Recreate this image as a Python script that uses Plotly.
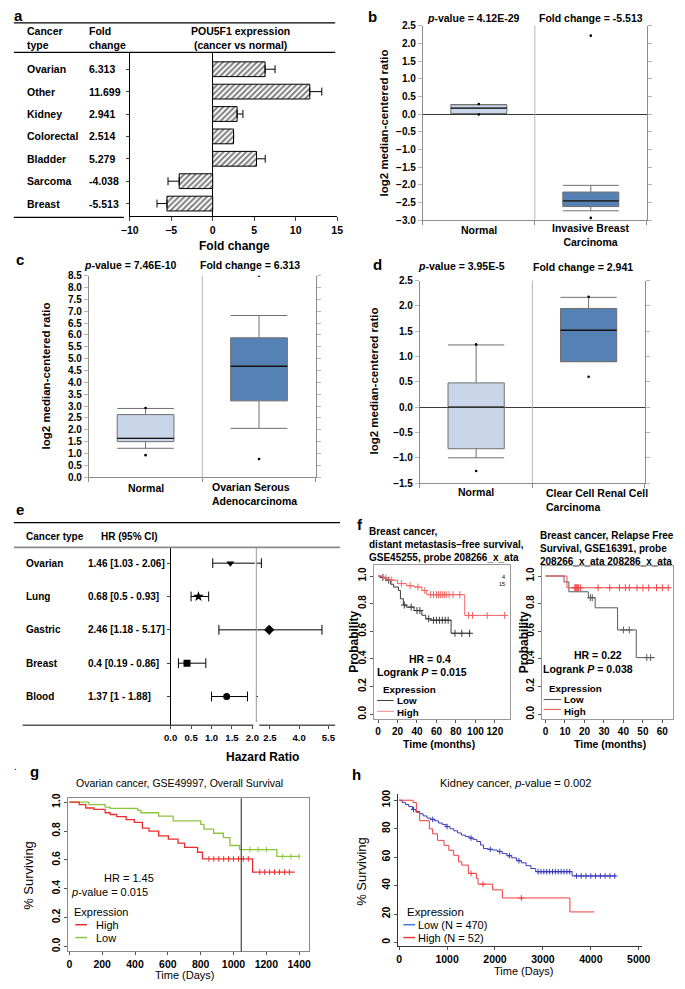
import bisect
import plotly.graph_objects as go

W, H = 685, 989
F = "Liberation Sans, Arial, Helvetica, sans-serif"

# ============================ DATA ============================
# (a) POU5F1 expression, cancer vs normal
a_cats = ["Ovarian", "Other", "Kidney", "Colorectal", "Bladder", "Sarcoma", "Breast"]
a_fold = [6.313, 11.699, 2.941, 2.514, 5.279, -4.038, -5.513]
a_err = [1.2, 1.45, 0.7, 0.0, 1.05, 1.35, 1.2]
a_xticks = [-10, -5, 0, 5, 10, 15]

# (b) breast
b_groups = ["Normal", "Invasive Breast<br>Carcinoma"]
b_q1 = [0.02, -2.61]
b_med = [0.17, -2.45]
b_q3 = [0.27, -2.20]
b_lo = [0.02, -2.73]
b_hi = [0.27, -2.01]
b_out_g = [0, 0, 1, 1]
b_out_v = [0.29, -0.01, 2.22, -2.93]
b_pval, b_fold = "4.12E-29", "-5.513"

# (c) ovarian
c_groups = ["Normal", "Ovarian Serous<br>Adenocarcinoma"]
c_q1 = [1.50, 3.22]
c_med = [1.64, 4.68]
c_q3 = [2.64, 5.88]
c_lo = [1.22, 2.06]
c_hi = [2.90, 6.82]
c_out_g = [0, 0, 1, 1]
c_out_v = [2.92, 0.93, 8.50, 0.77]
c_pval, c_fold = "7.46E-10", "6.313"

# (d) kidney
d_groups = ["Normal", "Clear Cell Renal Cell<br>Carcinoma"]
d_q1 = [-0.82, 0.90]
d_med = [0.00, 1.52]
d_q3 = [0.48, 1.95]
d_lo = [-1.00, 0.90]
d_hi = [1.23, 2.17]
d_out_g = [0, 0, 1, 1]
d_out_v = [1.24, -1.26, 2.18, 0.60]
d_pval, d_fold = "3.95E-5", "2.941"

# (e) forest plot
e_cats = ["Ovarian", "Lung", "Gastric", "Breast", "Blood"]
e_hr = [1.46, 0.68, 2.46, 0.4, 1.37]
e_lo = [1.03, 0.5, 1.18, 0.19, 1.0]
e_hi = [2.06, 0.93, 5.17, 0.86, 1.88]
e_sym = ["triangle-down", "star", "diamond", "square", "circle"]
e_left_ticks = [0.0, 0.5, 1.0, 1.5, 2.0]
e_right_ticks = [2.5, 4.0, 5.5]
e_break = 2.0

# (f) left KM: GSE45255
fL_hi_t = [0, 5, 11, 20, 29, 37, 45, 50, 89, 132]
fL_hi_s = [1.0, 0.985, 0.97, 0.945, 0.93, 0.92, 0.895, 0.865, 0.715, 0.715]
fL_hi_c = [8, 14, 24, 33, 41, 48, 54, 57, 60, 62, 64, 66, 68, 70, 73, 77, 84, 93, 97, 112, 130]
fL_lo_t = [0, 3, 8, 13, 16, 21, 23, 26, 29, 37, 45, 49, 54, 75, 95]
fL_lo_s = [1.0, 0.99, 0.97, 0.94, 0.92, 0.895, 0.835, 0.79, 0.775, 0.75, 0.716, 0.69, 0.68, 0.586, 0.586]
fL_lo_c = [5, 11, 27, 34, 40, 43, 52, 57, 60, 63, 66, 69, 72, 79, 86, 94]
# (f) right KM: GSE16391
fR_hi_t = [0, 11, 64]
fR_hi_s = [1.0, 0.915, 0.915]
fR_hi_c = [15, 15.5, 16, 16.5, 17, 18, 27, 33, 38, 41, 43, 47, 50, 53, 57, 60, 63]
fR_lo_t = [0, 9.5, 12, 22, 25.5, 37, 46.6, 56]
fR_lo_s = [1.0, 0.957, 0.886, 0.843, 0.77, 0.61, 0.41, 0.41]
fR_lo_c = [23, 24, 40, 43, 52, 54]
f_ticks_L = [0, 20, 40, 60, 80, 100, 120]
f_ticks_R = [0, 10, 20, 30, 40, 50, 60]
f_yticks = [0.0, 0.2, 0.4, 0.6, 0.8, 1.0]

# (g) ovarian OS GSE49997
g_lo_t = [0, 119, 218, 248, 416, 436, 544, 632, 800, 820, 879, 938, 978, 1037, 1264, 1408]
g_lo_s = [1.0, 0.984, 0.966, 0.957, 0.943, 0.927, 0.904, 0.870, 0.847, 0.813, 0.785, 0.755, 0.70, 0.672, 0.624, 0.624]
g_lo_c = [1100, 1150, 1200, 1300, 1350, 1400]
g_hi_t = [0, 60, 100, 149, 218, 248, 288, 346, 396, 445, 485, 544, 603, 662, 702, 781, 811, 1116, 1373]
g_hi_s = [1.0, 0.984, 0.96, 0.95, 0.927, 0.915, 0.90, 0.88, 0.86, 0.82, 0.80, 0.767, 0.744, 0.717, 0.687,
          0.653, 0.607, 0.516, 0.516]
g_hi_c = [850, 880, 910, 940, 970, 1000, 1030, 1060, 1090, 1160, 1190, 1220, 1250, 1280, 1310, 1340]
g_cutoff = 1047
g_xticks = [0, 200, 400, 600, 800, 1000, 1200, 1400]
g_yticks = [0.0, 0.2, 0.4, 0.6, 0.8, 1.0]

# (h) kidney
h_lo_t = [0, 60, 130, 200, 280, 350, 430, 500, 580, 660, 740, 820, 900, 980, 1060, 1140, 1220, 1300, 1380,
          1460, 1540, 1620, 1700, 1760, 1850, 1950, 2050, 2150, 2250, 2350, 2450, 2550, 2650, 2750, 2850,
          3610, 4526]
h_lo_s = [100, 98.5, 97, 95.5, 93.5, 92, 90.5, 89, 87.5, 86.5, 85.5, 84, 83, 81.5, 80, 78.5, 77, 75.5, 74.5,
          73.5, 72.5, 71, 68.5, 66, 65.5, 65, 64, 62.5, 61, 59.5, 57.5, 56, 54, 52, 49.8, 46.8, 46.8]
h_lo_c = [300, 700, 1000, 1500, 1900, 2100, 2300, 2500, 2900, 2960, 3020, 3080, 3140, 3200, 3260, 3320, 3380,
          3440, 3500, 3560, 3700, 3800, 3900, 4000, 4100, 4200, 4300, 4400, 4500]
h_hi_t = [0, 291, 359, 427, 630, 698, 800, 935, 1037, 1138, 1240, 1308, 1443, 1612, 1646, 1951, 2154, 3564, 4072]
h_hi_s = [100, 98.4, 91.4, 85.6, 79.9, 76.4, 71.8, 68.3, 64.8, 61.3, 56.7, 54.4, 48.6, 45.1, 41, 37, 31.3,
          21.5, 21.5]
h_hi_c = [1500, 1750, 2550]
h_xticks = [0, 1000, 2000, 3000, 4000, 5000]
h_yticks = [0, 20, 40, 60, 80, 100]

# ============================ HELPERS ============================
traces, anns, shapes, L = [], [], [], {}


def fx(p):
    return p / W


def fy(p):
    return 1 - p / H


def lr(v0, p0, v1, p1, pa, pb):
    k = (v1 - v0) / (p1 - p0)
    return [v0 + (pa - p0) * k, v0 + (pb - p0) * k]


def TF(size, fam=F, bold=True):
    return dict(size=size, family=fam, color="black", weight="bold" if bold else "normal")


def txt(s, x, y, size=10.5, bold=False, xa="left", ya="middle", xref="paper", yref="paper",
        fam=F, angle=0, align="left", color="black"):
    if xref == "paper":
        x = fx(x)
    if yref == "paper":
        y = fy(y)
    if bold:
        s = "<b>" + s + "</b>"
    anns.append(dict(text=s, x=x, y=y, xref=xref, yref=yref, xanchor=xa, yanchor=ya, showarrow=False,
                     font=dict(size=size, family=fam, color=color), textangle=angle, align=align))


def seg(x0, y0, x1, y1, color="black", w=1, xref="paper", yref="paper"):
    if xref == "paper":
        x0, x1 = fx(x0), fx(x1)
    if yref == "paper":
        y0, y1 = fy(y0), fy(y1)
    shapes.append(dict(type="line", x0=x0, x1=x1, y0=y0, y1=y1, xref=xref, yref=yref,
                       line=dict(color=color, width=w)))


def xaxis(n, p0, p1, rng, anchor, **kw):
    d = dict(domain=[fx(p0), fx(p1)], range=rng, anchor=anchor, showgrid=False, zeroline=False,
             fixedrange=True, ticks="", showticklabels=False, type="linear")
    d.update(kw)
    L["xaxis" if n == 1 else "xaxis%d" % n] = d


def yaxis(n, ptop, pbot, rng, anchor, **kw):
    d = dict(domain=[fy(pbot), fy(ptop)], range=rng, anchor=anchor, showgrid=False, zeroline=False,
             fixedrange=True, ticks="", showticklabels=False, type="linear")
    d.update(kw)
    L["yaxis" if n == 1 else "yaxis%d" % n] = d


def step_at(ts, ss, c):
    i = bisect.bisect_right(ts, c) - 1
    return ss[max(i, 0)]


def km(ts, ss, cens, color, xr, yr, width=1.0, msize=5, sym="cross-thin"):
    traces.append(go.Scatter(x=ts, y=ss, mode="lines", line=dict(color=color, width=width, shape="hv"),
                             xaxis=xr, yaxis=yr, hoverinfo="skip"))
    if cens:
        traces.append(go.Scatter(x=cens, y=[step_at(ts, ss, c) for c in cens], mode="markers",
                                 marker=dict(symbol=sym, size=msize, color=color, line=dict(color=color, width=1)),
                                 xaxis=xr, yaxis=yr, hoverinfo="skip"))


# ============================ PANEL LETTERS ============================
for lt, x, y in [("a", 3, 10), ("b", 367, 11), ("c", 5, 257), ("d", 372, 262), ("e", 5, 510),
                 ("f", 355, 525), ("g", 19, 775), ("h", 350, 778)]:
    txt(lt, x, y, size=15, bold=True)
txt(".", 3, 770, size=10)

# ============================ PANEL A ============================
ypos = list(range(len(a_cats)))
traces.append(go.Bar(
    x=a_fold, y=ypos, orientation="h", width=0.66, xaxis="x", yaxis="y",
    marker=dict(color="white", line=dict(color="black", width=1),
                pattern=dict(shape="/", fgcolor="black", bgcolor="white", size=4, solidity=0.5)),
    error_x=dict(type="data", symmetric=False,
                 array=[e if v > 0 else 0 for v, e in zip(a_fold, a_err)],
                 arrayminus=[e if v < 0 else 0 for v, e in zip(a_fold, a_err)],
                 color="black", thickness=1, width=4)))
xaxis(1, 124, 337, [-10, 15], "y", showline=True, linecolor="black", ticks="outside", ticklen=4,
      tickvals=a_xticks, showticklabels=True, tickfont=TF(10.5), zeroline=True, zerolinecolor="black",
      zerolinewidth=1)
yaxis(1, 48, 213, lr(0, 64, 6, 200, 213, 48), "x", showline=True, linecolor="black", ticks="outside",
      ticklen=3, tickvals=ypos)
seg(5, 17, 335, 17, w=1.3)
seg(5, 47, 335, 47, w=1.3)
seg(5, 214, 118, 214, w=1.3)
txt("Cancer<br>type", 16, 32, size=10.5, bold=True)
txt("Fold<br>change", 80, 32, size=10.5, bold=True)
txt("POU5F1 expression<br>(cancer vs normal)", 238, 32, size=10.5, bold=True, xa="center", align="center")
for i, (c, v) in enumerate(zip(a_cats, a_fold)):
    txt(c, 16, i, size=10.5, bold=True, yref="y")
    txt("%.3f" % v, 80, i, size=10.5, bold=True, yref="y")
txt("Fold change", 232, 243, size=12, bold=True, xa="center")

# ============================ PANELS B, C, D ============================
FILL_N, FILL_T = "#c9d6e9", "#5581b5"


def boxpanel(n, xd, ytop, ybot, rng, q1, med, q3, lo, hi, og, ov, zero):
    xr, yr = "x%d" % n, "y%d" % n
    xaxis(n, xd[0], xd[1], [-0.5, 1.5], yr, showline=True, linecolor="#8c8c8c", ticks="outside", ticklen=4,
          tickcolor="#8c8c8c", tickvals=[-0.5, 0.5, 1.5])
    yaxis(n, ytop, ybot, rng, xr, showline=True, linecolor="#8c8c8c", mirror="ticks", ticks="outside",
          ticklen=4, tickcolor="#b5b5b5", dtick=0.5, tick0=0, tickformat=".1f", showticklabels=True,
          tickfont=TF(10), zeroline=zero, zerolinecolor="#3a3a3a", zerolinewidth=1)
    seg(0.5, 0, 0.5, 1, color="#b5b5b5", xref=xr, yref=yr + " domain")
    for i, fc in enumerate([FILL_N, FILL_T]):
        traces.append(go.Box(x=[i], q1=[q1[i]], median=[med[i]], q3=[q3[i]], lowerfence=[lo[i]],
                             upperfence=[hi[i]], width=0.5, whiskerwidth=1, fillcolor=fc,
                             line=dict(color="#6f6f6f", width=1), xaxis=xr, yaxis=yr, hoverinfo="skip"))
        traces.append(go.Scatter(x=[i - 0.25, i + 0.25], y=[med[i], med[i]], mode="lines",
                                 line=dict(color="#151515", width=1.3), xaxis=xr, yaxis=yr, hoverinfo="skip"))
    traces.append(go.Scatter(x=og, y=ov, mode="markers", marker=dict(color="black", size=2.6),
                             xaxis=xr, yaxis=yr, hoverinfo="skip"))


# b
boxpanel(2, (425, 655), 20, 217, [-3.0, 2.5], b_q1, b_med, b_q3, b_lo, b_hi, b_out_g, b_out_v, True)
txt("<i>p</i>-value = " + b_pval, 477, 12, size=10.5, bold=True, xa="center")
txt("Fold change = " + b_fold, 598, 12, size=10.5, bold=True, xa="center")
txt(b_groups[0], 0, 227, size=10.5, bold=True, xa="center", xref="x2")
txt(b_groups[1], 1, 232, size=10.5, bold=True, xa="center", xref="x2", align="center")
txt("log2 median-centered ratio", 385, 118, size=11.5, bold=True, xa="center", angle=-90)

# c
boxpanel(3, (82, 315), 273, 477, [0.0, 8.5], c_q1, c_med, c_q3, c_lo, c_hi, c_out_g, c_out_v, False)
txt("<i>p</i>-value = " + c_pval, 125, 262, size=10.5, bold=True, xa="center")
txt("Fold change = " + c_fold, 248, 262, size=10.5, bold=True, xa="center")
txt(c_groups[0], 0, 488, size=10.5, bold=True, xa="center", xref="x3")
txt(c_groups[1], 0.57, 494, size=10.5, bold=True, xa="left", xref="x3")
txt("log2 median-centered ratio", 38, 375, size=11.5, bold=True, xa="center", angle=-90)

# d
boxpanel(4, (422, 653), 278, 483, [-1.5, 2.5], d_q1, d_med, d_q3, d_lo, d_hi, d_out_g, d_out_v, True)
txt("<i>p</i>-value = " + d_pval, 465, 263, size=10.5, bold=True, xa="center")
txt("Fold change = " + d_fold, 590, 264, size=10.5, bold=True, xa="center")
txt(d_groups[0], 0, 492, size=10.5, bold=True, xa="center", xref="x4")
txt(d_groups[1], 0.6, 500, size=10.5, bold=True, xa="left", xref="x4")
txt("log2 median-centered ratio", 375, 380, size=11.5, bold=True, xa="center", angle=-90)

# ============================ PANEL E ============================
e_rows = list(range(len(e_cats)))
xaxis(5, 166, 254, lr(0, 166, 2.0, 250, 166, 254), "y5", ticks="outside", ticklen=3, tickvals=e_left_ticks,
      tickformat=".1f", showticklabels=True, tickfont=TF(9.5))
xaxis(6, 254, 335, lr(2.5, 268, 5.5, 328, 254, 335), "y5", ticks="outside", ticklen=3, tickvals=e_right_ticks,
      tickformat=".1f", showticklabels=True, tickfont=TF(9.5))
yaxis(5, 548, 728, lr(0, 564, 4, 699, 728, 548), "x5", showline=True, linecolor="black", ticks="outside",
      ticklen=3, tickvals=e_rows)
for xr in ("x5", "x6"):
    for i in e_rows:
        traces.append(go.Scatter(x=[e_lo[i], e_hi[i]], y=[i, i], mode="lines", line=dict(color="black", width=1),
                                 xaxis=xr, yaxis="y5", hoverinfo="skip"))
for i in e_rows:
    for v in (e_lo[i], e_hi[i]):
        traces.append(go.Scatter(x=[v], y=[i], mode="markers", xaxis="x5" if v <= e_break else "x6", yaxis="y5",
                                 marker=dict(symbol="line-ns", size=7, line=dict(color="black", width=1)),
                                 hoverinfo="skip"))
    traces.append(go.Scatter(x=[e_hr[i]], y=[i], mode="markers", xaxis="x5" if e_hr[i] <= e_break else "x6",
                             yaxis="y5", marker=dict(symbol=e_sym[i], size=8 if e_sym[i] in ("star", "diamond") else 7,
                                                     color="black"), hoverinfo="skip"))
    txt(e_cats[i], 15, i, size=10, bold=True, yref="y5")
    txt("%g [%g - %g]" % (e_hr[i], e_lo[i], e_hi[i]), 79, i, size=10, bold=True, yref="y5")
seg(5, 523, 340, 523, w=1.3)
seg(5, 548, 340, 548, color="#8a8a8a", w=1.6)
seg(254, 548, 254, 725, color="#9a9a9a", w=1)
seg(14, 728, 251, 728, w=1)
seg(257, 728, 335, 728, w=1)
txt("Cancer type", 15, 537, size=10, bold=True)
txt("HR (95% CI)", 92, 537, size=10, bold=True)
txt("Hazard Ratio", 260, 760, size=12, bold=True, xa="center")

# ============================ PANEL F ============================


def kmaxes(n, xd, ytop, ybot, xrng, yrng, xt, yt, fs=10, box=True, yfmt=".1f", bold=True, lc="#9a9a9a"):
    xr, yr = "x%d" % n, "y%d" % n
    xaxis(n, xd[0], xd[1], xrng, yr, showline=True, linecolor=lc, mirror=box, ticks="outside", ticklen=3,
          tickcolor="#555", tickvals=xt, showticklabels=True, tickfont=TF(fs, bold=bold))
    yaxis(n, ytop, ybot, yrng, xr, showline=True, linecolor=lc, mirror=box, ticks="outside", ticklen=3,
          tickcolor="#555", tickvals=yt, tickformat=yfmt, showticklabels=True, tickfont=TF(fs, bold=bold),
          tickangle=-90)


kmaxes(7, (375, 515), 566, 722, lr(0, 379, 120, 499, 375, 515), lr(0, 717, 1, 577, 722, 566), f_ticks_L, f_yticks)
kmaxes(8, (547, 682), 567, 722, lr(0, 551, 60, 671, 547, 682), lr(0, 717, 1, 577, 722, 567), f_ticks_R, f_yticks)
km(fL_lo_t, fL_lo_s, fL_lo_c, "#3a3a3a", "x7", "y7")
km(fL_hi_t, fL_hi_s, fL_hi_c, "#f06666", "x7", "y7")
km(fR_lo_t, fR_lo_s, fR_lo_c, "#5a5a5a", "x8", "y8")
km(fR_hi_t, fR_hi_s, fR_hi_c, "#f04a4a", "x8", "y8")
txt("Breast cancer,<br>distant metastasis\u2013free survival,<br>GSE45255, probe 208266_x_ata", 368, 545,
    size=10, bold=True)
txt("Breast cancer, Relapse Free<br>Survival, GSE16391, probe<br>208266_x_ata 208286_x_ata", 543, 549,
    size=10, bold=True)
txt("4<br>15", 511, 582, size=5.5, xa="right", align="right")
txt("HR = 0.4", 432, 661, size=10.5, bold=True, xa="center")
txt("Logrank <i>P</i> = 0.015", 424, 674, size=10.5, bold=True, xa="center")
txt("Expression", 382, 692, size=9.8, bold=True)
seg(378, 703, 395, 703, color="#3a3a3a")
txt("Low", 396, 703.5, size=9.8, bold=True)
seg(378, 714, 395, 714, color="#f58a8a")
txt("High", 396, 715, size=9.8, bold=True)
txt("HR = 0.22", 605, 657, size=10.5, bold=True, xa="center")
txt("Logrank <i>P</i> = 0.038", 595, 671, size=10.5, bold=True, xa="center")
txt("Expression", 553, 691, size=9.8, bold=True)
seg(549, 702, 567, 702, color="#5a5a5a")
txt("Low", 568, 702.5, size=9.8, bold=True)
seg(549, 712, 567, 712, color="#f04a4a")
txt("High", 568, 714, size=9.8, bold=True)
txt("Probability", 355, 644, size=12, bold=True, xa="center", angle=-90)
txt("Probability", 529, 644, size=12, bold=True, xa="center", angle=-90)
txt("Time (months)", 442, 747, size=10.5, bold=True, xa="center")
txt("Time (months)", 617, 747, size=10.5, bold=True, xa="center")

# ============================ PANEL G ============================
kmaxes(9, (61, 308), 802, 957, lr(0, 62, 1400, 298, 61, 308), lr(0, 952, 1, 806, 957, 802), g_xticks, g_yticks,
       fs=10.5, lc="#8a8a8a")
km(g_lo_t, g_lo_s, g_lo_c, "#8cc63e", "x9", "y9", width=1.3, sym="line-ns", msize=4)
km(g_hi_t, g_hi_s, g_hi_c, "#ec2d2d", "x9", "y9", width=1.3, sym="line-ns", msize=4)
seg(g_cutoff, 0, g_cutoff, 1, color="#222", w=1, xref="x9", yref="y9 domain")
txt("Ovarian cancer, GSE49997, Overall Survival", 175, 787, size=10.5, xa="center")
txt("HR = 1.45", 123, 883, size=11, xa="center")
txt("<i>p</i>-value = 0.015", 103, 897, size=11, xa="center")
txt("Expression", 65, 917, size=11)
seg(68, 930, 80, 930, color="#ec2d2d", w=1.5)
txt("High", 87, 930, size=11)
seg(68, 943, 80, 943, color="#8cc63e", w=1.5)
txt("Low", 87, 943, size=11)
txt("% Surviving", 20, 880, size=13, xa="center", angle=-90)
txt("Time (Days)", 180, 981, size=11, xa="center")

# ============================ PANEL H ============================
kmaxes(10, (400, 650), 798, 952, lr(0, 400.7, 5000, 646.7, 400, 650), lr(0, 948, 100, 804, 952, 798), h_xticks,
       h_yticks, fs=10.5, box=False, yfmt="d", lc="#333")
km(h_lo_t, h_lo_s, h_lo_c, "#3a3ab8", "x10", "y10", width=1.0, msize=4)
km(h_hi_t, h_hi_s, h_hi_c, "#f23c3c", "x10", "y10", width=1.0, msize=4)
txt("Kidney cancer, <i>p</i>-value = 0.002", 520, 787, size=11, xa="center")
txt("Expression", 407, 917, size=11.5)
seg(405, 930, 417, 930, color="#3b7ddd", w=1.5)
txt("Low (N = 470)", 418, 930, size=11)
seg(405, 943, 417, 943, color="#f23c3c", w=1.5)
txt("High (N = 52)", 418, 943, size=11)
txt("% Surviving", 362, 876, size=13, xa="center", angle=-90)
txt("Time (Days)", 528, 977, size=11, xa="center")

# ============================ FIGURE ============================
fig = go.Figure(data=traces)
fig.update_layout(width=W, height=H, margin=dict(l=0, r=0, t=0, b=0), autosize=False,
                  paper_bgcolor="white", plot_bgcolor="white", showlegend=False,
                  font=dict(family=F, color="black"), annotations=anns, shapes=shapes, boxmode="overlay", **L)
fig.write_html("out.html", config={"displayModeBar": False},
               post_script="document.body.style.margin='0';document.body.style.overflow='hidden';")
